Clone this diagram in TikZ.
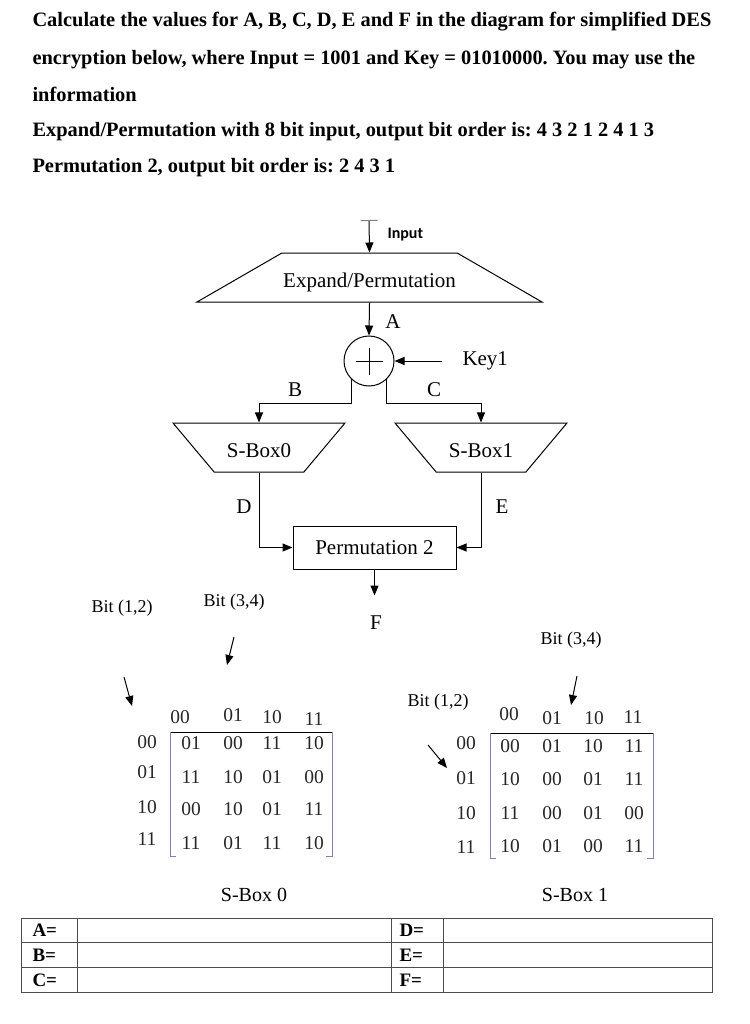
\documentclass[tikz,border=0pt]{standalone}
\usepackage{fontspec}
\setmainfont{Liberation Serif}
\newfontfamily\inputfont{Carlito}
\usetikzlibrary{shapes.geometric,arrows.meta}
\frenchspacing

\begin{document}
\begin{tikzpicture}[x=1pt, y=-1pt, line width=1pt,
  arr/.style={-{Triangle[length=10pt,width=8pt]}},
  trap/.style={draw, trapezium, trapezium stretches body, inner xsep=0pt, inner ysep=15pt, text height=19pt, text depth=0pt, font=\fontsize{21}{24}\selectfont},
  lbl/.style={inner sep=0pt, font=\fontsize{21}{24}\selectfont},
  bit/.style={inner sep=0pt, font=\fontsize{18}{21}\selectfont},
  num/.style={inner sep=0pt, text=black!85, font=\fontsize{19.5}{22}\selectfont},
  head/.style={anchor=base west, inner sep=0pt, font=\fontsize{20.4}{24}\selectfont\bfseries},
  cell/.style={anchor=west, inner sep=0pt, font=\fontsize{19}{22}\selectfont\bfseries},
  brk/.style={blue!25!gray!80, line width=0.8pt},
  tbl/.style={black!70, line width=1pt}]
  \useasboundingbox (0,0) rectangle (749,1024);
  % question text
  \node[head] (q1) at (32,27) {Calculate the values for A, B, C, D, E and F in the diagram for simplified DES};
  \node[head] (q2) at (32,65) {encryption below, where Input = 1001 and Key = 01010000. You may use the};
  \node[head] (q3) at (32,102) {information};
  \node[head] (q4) at (32,137) {Expand/Permutation with 8 bit input, output bit order is: 4 3 2 1 2 4 1 3};
  \node[head] (q5) at (32,173) {Permutation 2, output bit order is: 2 4 3 1};
  % round
  \coordinate (inp) at (369,220);
  \node[anchor=west, inner sep=0pt, font=\inputfont\fontsize{16}{19}\selectfont\bfseries] (inlbl) at (387,235) {Input};
  \node[trap, minimum width=345pt, trapezium left angle=30, trapezium right angle=30] (ep) at (369.5,277.5) {Expand/Permutation};
  \node[draw, circle, minimum size=50pt, inner sep=0pt,
    path picture={\draw ([xshift=-13.5pt]path picture bounding box.center) -- ([xshift=13.5pt]path picture bounding box.center);
                  \draw ([yshift=-13.5pt]path picture bounding box.center) -- ([yshift=13.5pt]path picture bounding box.center);}] (xor) at (369,361) {};
  \coordinate (keyin) at (442,361);
  \node[lbl, anchor=west] (key) at (462,361) {Key1};
  \node[trap, minimum width=172pt, trapezium left angle=130, trapezium right angle=130] (sb0) at (259,447.5) {S-Box0};
  \node[trap, minimum width=172pt, trapezium left angle=130, trapezium right angle=130] (sb1) at (481,447.5) {S-Box1};
  \node[draw, minimum width=163pt, minimum height=43pt, font=\fontsize{21}{24}\selectfont] (p2) at (374.5,547.5) {Permutation 2};
  \node[lbl] (la) at (393,322) {A};
  \node[lbl] (lb) at (295,390) {B};
  \node[lbl] (lc) at (434,390) {C};
  \node[lbl] (ld) at (244,507) {D};
  \node[lbl] (le) at (502,507) {E};
  \node[lbl] (lf) at (376,623) {F};
  \draw[{Bar[width=17pt,color=gray]}-{Triangle[length=10pt,width=8pt]}] (inp) -- (ep.north);
  \draw[arr] (ep.south) -- (xor.north);
  \draw[arr] (keyin) -- (xor.east);
  \draw[arr] (xor.226) -- ++(0,24) -| (sb0.north);
  \draw[arr] (xor.314) -- ++(0,24) -| (sb1.north);
  \draw[arr] (sb0.south) |- (p2.west);
  \draw[arr] (sb1.south) |- (p2.east);
  \draw[arr] (p2.south) -- ++(0,26);
  % bit labels
  \node[bit] (b12l) at (122,608) {Bit (1,2)};
  \node[bit] (b34l) at (234,602) {Bit (3,4)};
  \node[bit] (b34r) at (571,640) {Bit (3,4)};
  \node[bit] (b12r) at (438,702) {Bit (1,2)};
  \coordinate (b34la) at (234,637);
  \coordinate (b34lb) at (227,665);
  \coordinate (b12la) at (124,677);
  \coordinate (b12lb) at (132,706);
  \coordinate (b34ra) at (577,676);
  \coordinate (b34rb) at (571,705);
  \coordinate (b12ra) at (428,745);
  \coordinate (b12rb) at (447,768);
  \draw[arr] (b34la) -- (b34lb);
  \draw[arr] (b12la) -- (b12lb);
  \draw[arr] (b34ra) -- (b34rb);
  \draw[arr] (b12ra) -- (b12rb);
  % S-Box 0 table
  \draw (170,732) -- (332,732);
  \draw[brk] (170,732) -- (170,856) -- (176,856);
  \draw[brk] (332,732) -- (332,856) -- (326,856);
  \node[num] (s0c1) at (180,717) {00};
  \node[num] (s0c2) at (233,715) {01};
  \node[num] (s0c3) at (272,717) {10};
  \node[num] (s0c4) at (314,719) {11};
  \node[num] (s0r1) at (147,742) {00};
  \node[num] (s0r2) at (147,772) {01};
  \node[num] (s0r3) at (147,807) {10};
  \node[num] (s0r4) at (147,839) {11};
  \node[num] (s011) at (191,743) {01};
  \node[num] (s012) at (233,743) {00};
  \node[num] (s013) at (272,743) {11};
  \node[num] (s014) at (314,743) {10};
  \node[num] (s021) at (191,777) {11};
  \node[num] (s022) at (233,777) {10};
  \node[num] (s023) at (272,777) {01};
  \node[num] (s024) at (314,777) {00};
  \node[num] (s031) at (191,809) {00};
  \node[num] (s032) at (233,809) {10};
  \node[num] (s033) at (272,809) {01};
  \node[num] (s034) at (314,809) {11};
  \node[num] (s041) at (191,843) {11};
  \node[num] (s042) at (233,843) {01};
  \node[num] (s043) at (272,843) {11};
  \node[num] (s044) at (314,843) {10};
  \node[lbl, font=\fontsize{20}{23}\selectfont] (s0name) at (254,895) {S-Box 0};
  % S-Box 1 table
  \draw (490,733) -- (653,733);
  \draw[brk] (490,733) -- (490,858) -- (496,858);
  \draw[brk] (653,733) -- (653,858) -- (647,858);
  \node[num] (s1c1) at (509,714) {00};
  \node[num] (s1c2) at (552,718) {01};
  \node[num] (s1c3) at (594,718) {10};
  \node[num] (s1c4) at (633,717) {11};
  \node[num] (s1r1) at (466,743) {00};
  \node[num] (s1r2) at (466,778) {01};
  \node[num] (s1r3) at (466,813) {10};
  \node[num] (s1r4) at (466,847) {11};
  \node[num] (s111) at (510,746) {00};
  \node[num] (s112) at (552,746) {01};
  \node[num] (s113) at (593,746) {10};
  \node[num] (s114) at (634,746) {11};
  \node[num] (s121) at (510,779) {10};
  \node[num] (s122) at (552,779) {00};
  \node[num] (s123) at (593,779) {01};
  \node[num] (s124) at (634,779) {11};
  \node[num] (s131) at (510,813) {11};
  \node[num] (s132) at (552,813) {00};
  \node[num] (s133) at (593,813) {01};
  \node[num] (s134) at (634,813) {00};
  \node[num] (s141) at (510,846) {10};
  \node[num] (s142) at (552,846) {01};
  \node[num] (s143) at (593,846) {00};
  \node[num] (s144) at (634,846) {11};
  \node[lbl, font=\fontsize{20}{23}\selectfont] (s1name) at (575,895) {S-Box 1};
  % answer table
  \draw[tbl] (21,918) rectangle (712,992);
  \draw[tbl] (21,942) -- (712,942);
  \draw[tbl] (21,967) -- (712,967);
  \draw[tbl] (77,918) -- (77,992);
  \draw[tbl] (391,918) -- (391,992);
  \draw[tbl] (443,918) -- (443,992);
  \node[cell] (ta) at (32,930) {A=};
  \node[cell] (tb) at (32,955) {B=};
  \node[cell] (tc) at (32,980) {C=};
  \node[cell] (td) at (399,930) {D=};
  \node[cell] (te) at (399,955) {E=};
  \node[cell] (tf) at (399,980) {F=};
\end{tikzpicture}
\end{document}
